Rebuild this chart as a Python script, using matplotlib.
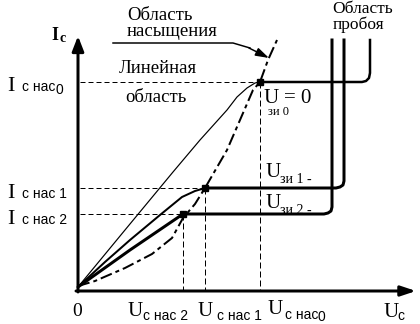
import matplotlib
matplotlib.use("Agg")
import matplotlib.pyplot as plt

# ---- data (U = drain voltage units, I = drain current units) ----
# linear-region branches
u_lin0 = [0, 47, 95, 122, 149, 159, 169, 177, 182]
i_lin0 = [3, 60, 118, 150, 180, 193, 202, 207, 208]
u_lin1 = [0, 27, 52, 82, 104, 117, 127]
i_lin1 = [3, 28, 50, 75, 93, 99, 102]
u_lin2 = [0, 52, 105]
i_lin2 = [3, 40, 76]
# saturation + breakdown branches
u_sat0 = [182, 284, 288, 291, 292, 292]
i_sat0 = [208, 208, 209, 212, 217, 250]
u_sat1 = [127, 258, 262, 265, 266, 266]
i_sat1 = [102, 102, 103, 105, 109, 250]
u_sat2 = [105, 246, 250, 253, 254, 254]
i_sat2 = [76, 76, 77, 79, 83, 250]
# saturation boundary (dashed)
u_bound = [0, 17, 47, 74, 94, 105, 117, 127, 149, 162, 175, 182, 190, 199]
i_bound = [4, 9, 22, 36, 52, 72, 86, 102, 140, 170, 200, 208, 230, 250]
# saturation points
u_nas = [182, 127, 105]
i_nas = [208, 102, 76]

X0, Y0 = 78, 290  # pixel of origin (for text layout)


def px(x, y):
    return x - X0, Y0 - y


fig = plt.figure(figsize=(4.2, 3.24), dpi=100)
ax = fig.add_axes([0, 0, 1, 1])
ax.set_xlim(-X0, 420 - X0)
ax.set_ylim(Y0 - 324, Y0)
ax.axis("off")

PX = 0.72  # 1 px in points

# axes with arrows
ax.annotate("", xy=px(78, 36), xytext=px(78, 292),
            arrowprops=dict(arrowstyle="-|>,head_length=0.9,head_width=0.35", lw=3 * PX, color="black",
                            shrinkA=0, shrinkB=0))
ax.annotate("", xy=px(416, 291), xytext=px(76, 291),
            arrowprops=dict(arrowstyle="-|>,head_length=0.9,head_width=0.3", lw=3 * PX, color="black",
                            shrinkA=0, shrinkB=0))

# guide lines
for u, i in zip(u_nas, i_nas):
    ax.plot([2, u], [i, i], color="black", lw=1 * PX, ls=(0, (5, 3)))
    ax.plot([u, u], [i, 0], color="black", lw=1 * PX, ls=(0, (6, 3)))

# curves
ax.plot(u_lin0, i_lin0, color="black", lw=1.2 * PX, solid_capstyle="round")
ax.plot(u_lin1, i_lin1, color="black", lw=2 * PX, solid_capstyle="round")
ax.plot(u_lin2, i_lin2, color="black", lw=3 * PX, solid_capstyle="round")
ax.plot(u_sat0, i_sat0, color="black", lw=2.5 * PX, solid_joinstyle="round")
ax.plot(u_sat1, i_sat1, color="black", lw=3 * PX, solid_joinstyle="round")
ax.plot(u_sat2, i_sat2, color="black", lw=3 * PX, solid_joinstyle="round")
ax.plot(u_bound, i_bound, color="black", lw=2 * PX, ls=(0, (6, 2, 2, 2)))
ax.plot(u_nas, i_nas, "s", color="black", ms=5)

# leader line for "Область насыщения"
ax.plot([px(113, 43)[0], px(233, 43)[0], px(250, 48)[0]],
        [px(113, 43)[1], px(233, 43)[1], px(250, 48)[1]], color="black", lw=1.5 * PX)
ax.annotate("", xy=px(269, 58), xytext=px(249, 48),
            arrowprops=dict(arrowstyle="-|>,head_length=0.8,head_width=0.25", lw=1.5 * PX, color="black",
                            shrinkA=0, shrinkB=0))

SERIF = ["Liberation Serif", "DejaVu Serif"]
SANS = ["Liberation Sans", "DejaVu Sans"]


def t(x, y, s, size, fam=SERIF, weight="normal", ha="left"):
    ax.text(*px(x, y), s, fontsize=size, family=fam, weight=weight, ha=ha, va="baseline")


# region labels
t(127, 20, "Область", 13.5)
t(127, 36, "насыщения", 13.5)
t(119, 73, "Линейная", 13.5)
t(125, 102, "область", 13.5)
t(332, 13, "Область", 12.5)
t(333, 29, "пробоя", 12.5)

# y-axis label
t(51, 40, "I", 13, weight="bold")
t(60, 42, "c", 10, weight="bold")

# current levels
for yb, sub, dy in [(91, "с нас", 0), (198, "с нас 1", None), (224, "с нас 2", None)]:
    t(7, yb, "I", 16)
    t(22, yb, sub, 10, SANS)
    if dy is not None:
        t(55, yb + 3, "0", 10, SANS)

# voltage levels
t(77, 316, "0", 14, ha="center")
t(128, 316, "U", 15)
t(143, 320, "с нас 2", 10, SANS)
t(198, 316, "U", 15)
t(217, 320, "с нас 1", 10, SANS)
t(268, 314, "U", 15)
t(285, 319, "с нас", 10, SANS)
t(317, 321, "0", 10, SANS)
t(383, 317, "U", 15)
t(397, 320, "c", 10, SANS)

# gate-voltage labels
t(263, 103, "U", 15)
t(284, 103, "= 0", 15)
t(268, 115, "зи 0", 9)
t(265, 177, "U", 15)
t(280, 183, "зи 1 -", 10)
t(265, 208, "U", 15)
t(280, 214, "зи 2 -", 10)

fig.savefig("out.png", dpi=100)
